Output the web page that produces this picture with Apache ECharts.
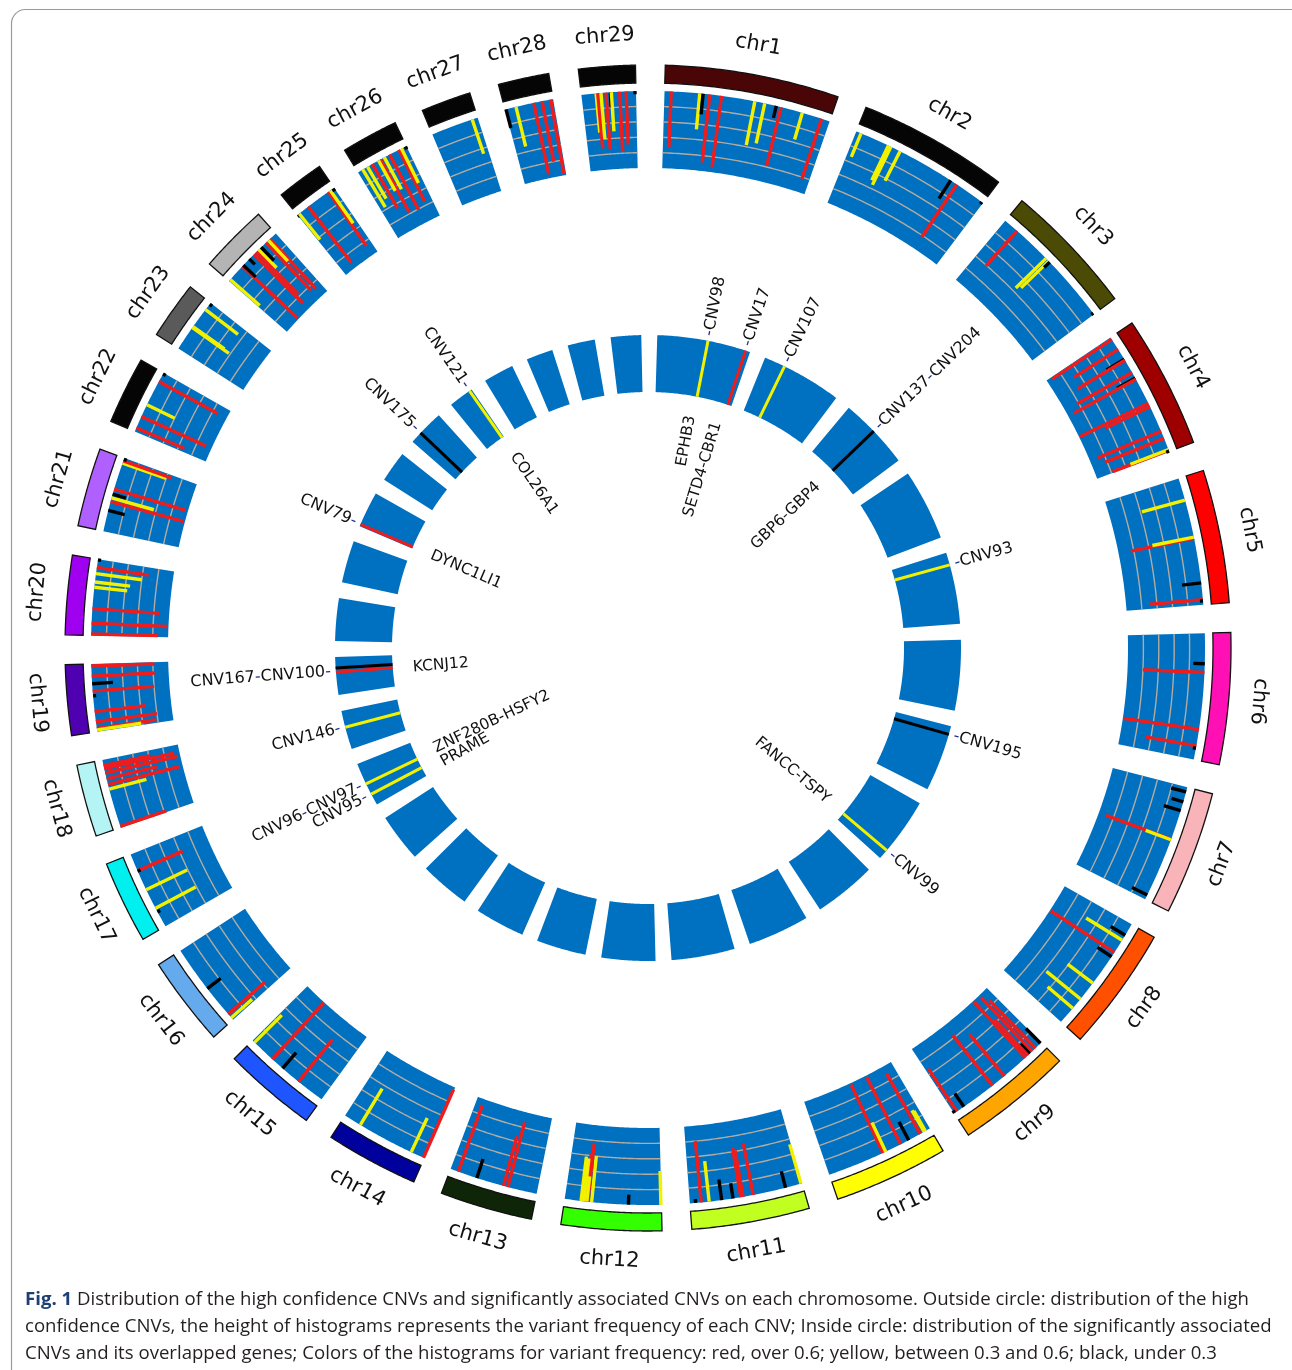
<!DOCTYPE html>
<html><head><meta charset="utf-8">
<script src="https://cdn.jsdelivr.net/npm/echarts@6/dist/echarts.min.js"></script>
<style>html,body{margin:0;padding:0;background:#fff}#c{width:1292px;height:1370px}</style>
</head><body><div id="c"></div>
<script>
// ---------------- data ----------------
const chromNames = ['chr1','chr2','chr3','chr4','chr5','chr6','chr7','chr8','chr9','chr10','chr11','chr12','chr13','chr14','chr15','chr16','chr17','chr18','chr19','chr20','chr21','chr22','chr23','chr24','chr25','chr26','chr27','chr28','chr29'];
const chromLengths = [158.3,137.1,121.4,120.8,121.2,119.5,112.6,113.4,105.7,104.3,107.3,91.2,84.2,84.6,85.3,81.7,75.2,66.0,64.1,72.0,71.6,61.4,52.5,62.7,42.9,51.7,45.4,46.3,51.5];
const chromColors = ['#4a0606','#050505','#4b4b06','#9e0000','#ff0000','#ff10b4','#f8b4b8','#ff5000','#ffa500','#ffff00','#c0ff20','#33ff00','#0f2508','#00009c','#1f55ff','#66aaee','#00f0f0','#b4f4f4','#4f00b0','#a000f0','#b060ff','#050505','#5a5a5a','#b4b4b4','#050505','#050505','#050505','#050505','#050505'];

// outside circle: [chromosome number, position (Mb), variant frequency]
const outerCnv = [
 [1,6.3,0.73],[1,33.2,0.47],[1,36.4,0.27],[1,42.7,0.89],[1,53.8,0.93],[1,85.5,0.58],[1,95.0,0.53],[1,106.1,0.16],[1,110.8,0.78],[1,131.4,0.36],[1,150.4,0.82],
 [2,4.8,0.33],[2,33.0,0.50],[2,35.6,0.55],[2,45.2,0.43],[2,100.1,0.28],[2,107.0,0.82],[2,135.7,0.03],
 [3,14.6,0.61],[3,52.2,0.55],[3,55.8,0.50],[3,57.1,0.10],[3,120.2,0.03],
 [4,2.2,0.93],[4,13.3,0.68],[4,24.2,0.27],[4,25.4,0.72],[4,38.7,0.82],[4,44.7,0.27],[4,45.9,0.92],[4,71.3,0.99],[4,74.9,0.64],[4,100.3,0.89],[4,107.5,0.83],[4,119.6,0.78],[4,119.0,0.53],[4,120.5,0.04],
 [5,21.2,0.58],[5,58.2,0.84],[5,57.0,0.55],[5,100.6,0.25],[5,116.4,0.69],[5,117.6,0.04],
 [6,28.7,0.15],[6,37.0,0.80],[6,90.8,0.99],[6,106.4,0.67],[6,108.7,0.04],
 [7,4.5,0.20],[7,14.1,0.16],[7,22.8,0.23],[7,51.1,0.90],[7,51.6,0.35],[7,108.1,0.22],
 [8,11.8,0.22],[8,17.4,0.55],[8,30.9,0.99],[8,35.8,0.22],[8,66.3,0.41],[8,85.1,0.57],[8,96.4,0.43],
 [9,1.0,0.27],[9,7.5,0.86],[9,11.9,0.96],[9,15.2,0.17],[9,17.4,0.64],[9,20.6,0.99],[9,46.9,0.71],[9,61.2,0.84],[9,94.6,0.21],[9,102.6,0.67],[9,105.2,0.04],
 [10,4.9,0.30],[10,6.3,0.32],[10,10.4,0.90],[10,22.8,0.27],[10,31.2,0.98],[10,49.9,0.98],[10,47.0,0.42],
 [11,1.1,0.53],[11,16.1,0.22],[11,47.2,0.68],[11,59.0,0.65],[11,56.9,0.61],[11,66.5,0.20],[11,77.3,0.27],[11,89.1,0.53],[11,96.6,0.80],[11,101.9,0.05],
 [12,0.5,0.44],[12,31.0,0.13],[12,65.7,0.60],[12,69.3,0.76],[12,71.1,0.62],[12,73.0,0.56],[12,75.7,0.58],[12,70.2,0.33],
 [13,27.8,0.87],[13,32.0,0.67],[13,58.1,0.26],[13,76.6,0.92],
 [14,0.8,0.97],[14,13.5,0.49],[14,67.7,0.55],
 [15,27.3,0.71],[15,46.9,0.27],[15,59.7,0.99],[15,82.7,0.50],
 [16,6.9,0.63],[16,2.5,0.36],[16,37.9,0.22],
 [17,15.5,0.04],[17,19.5,0.59],[17,38.9,0.59],[17,58.4,0.64],[17,58.0,0.04],
 [18,1.3,0.63],[18,37.9,0.50],[18,42.1,0.95],[18,47.7,0.68],[18,53.4,0.97],[18,57.6,0.93],[18,60.4,0.62],
 [19,3.2,0.78],[19,1.9,0.58],[19,9.6,0.80],[19,19.2,0.67],[19,34.0,0.04],[19,38.5,0.80],[19,45.5,0.27],[19,52.6,0.82],[19,62.2,0.82],
 [20,1.4,0.87],[20,11.5,0.98],[20,25.2,0.87],[20,45.4,0.43],[20,50.4,0.46],[20,58.3,0.60],[20,64.1,0.68],[20,71.3,0.04],
 [21,20.0,0.22],[21,28.6,0.98],[21,32.2,0.57],[21,35.8,0.18],[21,40.8,0.96],[21,66.6,0.60],[21,68.7,0.66],[21,70.2,0.04],
 [22,3.7,0.68],[22,15.4,0.92],[22,27.6,0.40],[22,52.2,0.87],[22,60.2,0.04],
 [23,23.6,0.58],[23,24.7,0.50],[23,44.6,0.53],[23,50.9,0.04],
 [24,1.9,0.51],[24,18.8,0.98],[24,20.1,0.22],[24,28.2,0.10],[24,34.5,0.90],[24,37.6,0.77],[24,40.8,0.33],[24,43.9,0.24],[24,50.2,0.85],[24,55.2,0.88],[24,53.3,0.37],
 [25,0.9,0.04],[25,2.1,0.43],[25,12.9,0.92],[25,36.5,0.86],[25,38.6,0.52],[25,41.6,0.04],
 [26,5.2,0.57],[26,10.3,0.48],[26,15.5,0.66],[26,24.3,0.78],[26,22.2,0.45],[26,28.4,0.47],[26,34.1,0.81],[26,43.9,0.75],[26,46.5,0.50],[26,50.7,0.04],
 [27,40.0,0.47],
 [28,0.9,0.25],[28,10.6,0.53],[28,27.8,0.95],[28,35.7,0.80],[28,44.0,0.98],
 [29,13.9,0.51],[29,15.5,0.72],[29,18.5,0.60],[29,23.2,0.74],[29,27.3,0.20],[29,28.3,0.51],[29,36.1,0.78],[29,42.2,0.69],[29,50.5,0.04]
];

// inside circle: significantly associated CNVs [chromosome, position (Mb), frequency]
const sigCnv = [
 [1,85.5,0.58],[1,150.4,0.82],[2,35.6,0.55],[3,57.1,0.10],[5,21.2,0.58],[7,14.1,0.16],[8,96.4,0.43],
 [17,19.5,0.59],[17,38.9,0.59],[18,37.9,0.50],[19,38.5,0.80],[19,45.5,0.27],[22,3.7,0.68],[24,20.1,0.22],[25,38.6,0.52]
];
// CNV name labels outside the inner circle: [chromosome, position, names from ring outward]
const sigNames = [
 [1,85.5,['CNV98']],[1,150.4,['CNV17']],[2,35.6,['CNV107']],[3,57.1,['CNV137','CNV204']],[5,21.2,['CNV93']],
 [7,14.1,['CNV195']],[8,96.4,['CNV99']],[17,19.5,['CNV95']],[17,38.9,['CNV97','CNV96']],[18,37.9,['CNV146']],
 [19,40.0,['CNV100','CNV167']],[22,3.7,['CNV79']],[24,20.1,['CNV175']],[25,38.6,['CNV121']]
];
// overlapped genes inside the inner circle: [chromosome, position, gene]
const sigGenes = [
 [1,80.0,'EPHB3'],[1,140.0,'SETD4-CBR1'],[3,57.1,'GBP6-GBP4'],[8,96.4,'FANCC-TSPY'],[17,43.0,'ZNF280B-HSFY2'],
 [17,8.0,'PRAME'],[19,36.0,'KCNJ12'],[22,3.7,'DYNC1LI1'],[25,38.6,'COL26A1']
];
const captionLines = [
 ['Fig. 1',' Distribution of the high confidence CNVs and significantly associated CNVs on each chromosome. Outside circle: distribution of the high'],
 ['','confidence CNVs, the height of histograms represents the variant frequency of each CNV; Inside circle: distribution of the significantly associated'],
 ['','CNVs and its overlapped genes; Colors of the histograms for variant frequency: red, over 0.6; yellow, between 0.3 and 0.6; black, under 0.3']
];

// ---------------- layout ----------------
const GAP = 26.8;               // gap between chromosomes (Mb units)
const offsets = [];
let acc = 0;
chromLengths.forEach(l => { offsets.push(acc); acc += l + GAP; });
const TOTAL = acc;
const R = { ideo0: 565, ideo1: 583, label: 613, trk0: 480, trk1: 557, in0: 256, in1: 313, nameR: 318, geneR: 236 };
const BLUE = '#0070c0';
const freqColor = f => f > 0.6 ? '#ee1c1c' : (f >= 0.3 ? '#f2f200' : '#000000');
const FONT = 'DejaVu Sans';

function arcPts(api, r, s, e, n) {
  const pts = [];
  for (let k = 0; k <= n; k++) { const p = api.coord([r, s + (e - s) * k / n]); pts.push([p[0], p[1]]); }
  return pts;
}
function band(api, r0, r1, s, e) {
  return arcPts(api, r1, s, e, 48).concat(arcPts(api, r0, s, e, 48).reverse());
}
function thetaOf(p, cs) { // clockwise angle from top, degrees
  const phi = Math.atan2(p[1] - cs.cy, p[0] - cs.cx);
  let t = phi * 180 / Math.PI + 90; t = (t % 360 + 360) % 360;
  return { phi, t };
}

const chromSeries = {
  type: 'custom', coordinateSystem: 'polar', silent: true,
  data: chromNames.map((n, i) => [R.trk1, offsets[i], i]),
  encode: { radius: 0, angle: 1 },
  renderItem(params, api) {
    const i = api.value(2), s = offsets[i], e = s + chromLengths[i], cs = params.coordSys;
    const ch = [];
    ch.push({ type: 'polygon', shape: { points: band(api, R.ideo0, R.ideo1, s, e) }, style: { fill: chromColors[i], stroke: '#111', lineWidth: 1.3 } });
    ch.push({ type: 'polygon', shape: { points: band(api, R.trk0, R.trk1, s, e) }, style: { fill: BLUE } });
    [0.2, 0.4, 0.6, 0.8].forEach(f => {
      ch.push({ type: 'polyline', shape: { points: arcPts(api, R.trk1 - f * (R.trk1 - R.trk0), s, e, 48) }, style: { stroke: '#b3aba0', lineWidth: 1.4, fill: null } });
    });
    ch.push({ type: 'polygon', shape: { points: band(api, R.in0, R.in1, s, e) }, style: { fill: BLUE } });
    const p = api.coord([R.label, (s + e) / 2]);
    const { phi, t } = thetaOf(p, cs);
    let rot = -(phi + Math.PI / 2);
    if (t > 100 && t < 270) rot += Math.PI;
    ch.push({ type: 'text', x: p[0], y: p[1], rotation: rot,
      style: { text: chromNames[i], fill: '#111', fontSize: 21, fontFamily: FONT, align: 'center', verticalAlign: 'middle' } });
    return { type: 'group', children: ch };
  }
};

const outerSeries = {
  type: 'custom', coordinateSystem: 'polar', silent: true,
  data: outerCnv.map(d => [R.trk1, offsets[d[0] - 1] + d[1], d[2]]),
  encode: { radius: 0, angle: 1 },
  renderItem(params, api) {
    const a = api.value(1), f = api.value(2);
    const p0 = api.coord([R.trk1, a]), p1 = api.coord([R.trk1 - f * (R.trk1 - R.trk0), a]);
    return { type: 'line', shape: { x1: p0[0], y1: p0[1], x2: p1[0], y2: p1[1] }, style: { stroke: freqColor(f), lineWidth: 3.4 } };
  }
};

const innerSeries = {
  type: 'custom', coordinateSystem: 'polar', silent: true,
  data: sigCnv.map(d => [R.in1, offsets[d[0] - 1] + d[1], d[2]]),
  encode: { radius: 0, angle: 1 },
  renderItem(params, api) {
    const a = api.value(1), f = api.value(2);
    const p0 = api.coord([R.in1, a]), p1 = api.coord([R.in0, a]);
    return { type: 'line', shape: { x1: p0[0], y1: p0[1], x2: p1[0], y2: p1[1] }, style: { stroke: freqColor(f), lineWidth: 3 } };
  }
};

const nameSeries = {
  type: 'custom', coordinateSystem: 'polar', silent: true,
  data: sigNames.map((d, k) => [R.nameR, offsets[d[0] - 1] + d[1], k]),
  encode: { radius: 0, angle: 1 },
  renderItem(params, api) {
    const a = api.value(1), k = api.value(2), names = sigNames[k][2];
    const p = api.coord([R.nameR, a]);
    const { phi, t } = thetaOf(p, params.coordSys);
    const left = t > 180;
    const txt = left ? names.slice().reverse().map(n => n + '{d|-}').join('') : names.map(n => '{d|-}' + n).join('');
    return { type: 'text', x: p[0], y: p[1], rotation: left ? -phi + Math.PI : -phi,
      style: { text: txt, fill: '#111', fontSize: 16, fontFamily: FONT, align: left ? 'right' : 'left', verticalAlign: 'middle',
        rich: { d: { fill: '#1c2f86', fontSize: 16, fontFamily: FONT } } } };
  }
};

const geneSeries = {
  type: 'custom', coordinateSystem: 'polar', silent: true,
  data: sigGenes.map((d, k) => [R.geneR, offsets[d[0] - 1] + d[1], k]),
  encode: { radius: 0, angle: 1 },
  renderItem(params, api) {
    const a = api.value(1), k = api.value(2);
    const p = api.coord([R.geneR, a]);
    const { phi, t } = thetaOf(p, params.coordSys);
    const left = t > 180;
    return { type: 'text', x: p[0], y: p[1], rotation: left ? -phi + Math.PI : -phi,
      style: { text: sigGenes[k][2], fill: '#111', fontSize: 15.5, fontFamily: FONT, align: left ? 'left' : 'right', verticalAlign: 'middle' } };
  }
};

const captionEls = captionLines.map((ln, j) => ({
  type: 'text', left: 25, top: 1290 + j * 27,
  style: { text: (ln[0] ? '{b|' + ln[0] + '}' : '') + ln[1], fill: '#231f20', font: '18.6px "Open Sans"',
    rich: { b: { font: 'bold 18.6px "Open Sans"', fill: '#1d3f73' } } }
}));

const chart = echarts.init(document.getElementById('c'), null, { renderer: 'canvas' });
chart.setOption({
  animation: false,
  backgroundColor: '#fff',
  polar: { center: [648, 648], radius: [0, 640] },
  angleAxis: { type: 'value', min: 0, max: TOTAL, startAngle: 88.3, clockwise: true,
    axisLine: { show: false }, axisTick: { show: false }, axisLabel: { show: false }, splitLine: { show: false } },
  radiusAxis: { type: 'value', min: 0, max: 640,
    axisLine: { show: false }, axisTick: { show: false }, axisLabel: { show: false }, splitLine: { show: false } },
  graphic: [
    { type: 'rect', left: 9, top: 7, shape: { width: 1300, height: 1400, r: 14 }, style: { fill: 'none', stroke: '#9a9a9a', lineWidth: 1.2 }, z: -1 }
  ].concat(captionEls),
  series: [chromSeries, outerSeries, innerSeries, nameSeries, geneSeries]
});
</script>
</body></html>
